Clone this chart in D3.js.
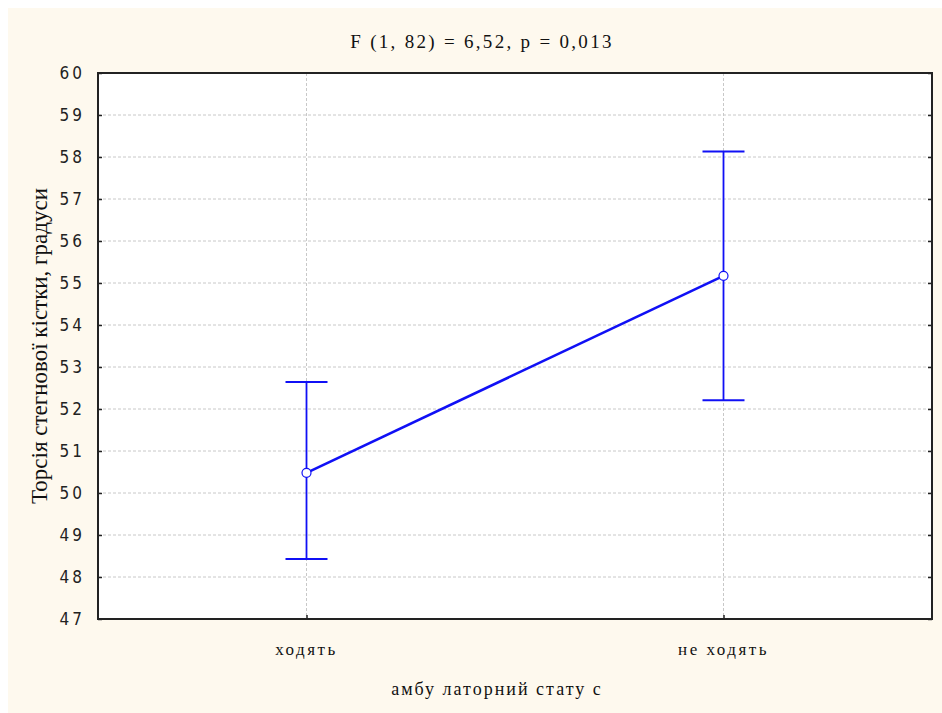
<!DOCTYPE html>
<html>
<head>
<meta charset="utf-8">
<script src="https://cdn.jsdelivr.net/npm/d3@7"></script>
<style>
  body { margin: 0; background: #fff; }
  svg { display: block; }
</style>
</head>
<body>
<svg width="942" height="713"></svg>
<script>
// **** Data ****
var categories = ["ходять", "не ходять"];
var means = [50.48, 55.17];
var upper = [52.64, 58.13];
var lower = [48.43, 52.21];
var yTicks = [47, 48, 49, 50, 51, 52, 53, 54, 55, 56, 57, 58, 59, 60];

var titleText = "F (1, 82) = 6,52, p = 0,013";
var xTitle = "амбу латорний стату с";
var yTitle = "Торсія стегнової кістки, градуси";

// **** Scales ****
// (plotTop, not "top": window.top is read-only)
var plotLeft = 98, plotRight = 932, plotTop = 73, plotBottom = 619;

var xScale = d3.scalePoint()
    .domain(categories).range([plotLeft, plotRight]).padding(0.5);

var yScale = d3.scaleLinear()
    .domain([47, 60]).range([plotBottom, plotTop]);

var svg = d3.select('svg');

svg.append('rect')
    .attr('x', 8).attr('y', 8)
    .attr('width', 934).attr('height', 705)
    .style('fill', '#fef9ee');

svg.append('rect')
    .attr('x', plotLeft).attr('y', plotTop)
    .attr('width', plotRight - plotLeft).attr('height', plotBottom - plotTop)
    .style('fill', '#fff');

// grid lines
svg.append('g').selectAll('line')
    .data(yTicks.slice(1, -1))
    .enter().append('line')
    .attr('x1', plotLeft).attr('x2', plotRight)
    .attr('y1', d => yScale(d)).attr('y2', d => yScale(d))
    .style('stroke', '#c8c8c8')
    .style('stroke-dasharray', '3,2');

svg.append('g').selectAll('line')
    .data(categories)
    .enter().append('line')
    .attr('x1', d => xScale(d)).attr('x2', d => xScale(d))
    .attr('y1', plotTop).attr('y2', plotBottom)
    .style('stroke', '#c8c8c8')
    .style('stroke-dasharray', '3,2');

// axes (ticks pointing inward)
var yAxis = svg.append('g').attr('class', 'y axis')
    .attr('transform', `translate(${plotLeft},0)`)
    .call(d3.axisRight(yScale).tickValues(yTicks).tickSize(4).tickFormat(''));
yAxis.select('.domain').remove();

var yAxisR = svg.append('g')
    .attr('transform', `translate(${plotRight},0)`)
    .call(d3.axisLeft(yScale).tickValues(yTicks).tickSize(4).tickFormat(''));
yAxisR.select('.domain').remove();

var xAxis = svg.append('g')
    .attr('transform', `translate(0,${plotBottom})`)
    .call(d3.axisTop(xScale).tickSize(4).tickFormat(''));
xAxis.select('.domain').remove();

svg.selectAll('.tick line').style('stroke', '#222').style('stroke-width', 1.5);

svg.append('rect')
    .attr('x', plotLeft).attr('y', plotTop)
    .attr('width', plotRight - plotLeft).attr('height', plotBottom - plotTop)
    .style('fill', 'none')
    .style('stroke', '#222')
    .style('stroke-width', 2);

// tick labels
svg.append('g').selectAll('text')
    .data(yTicks)
    .enter().append('text')
    .attr('x', 85)
    .attr('y', d => yScale(d) + 6)
    .attr('text-anchor', 'end')
    .style('font-family', '"Liberation Sans Narrow", "DejaVu Sans Condensed", sans-serif')
    .style('font-size', '17px')
    .style('letter-spacing', '3px')
    .style('fill', '#222')
    .text(d => d);

svg.append('g').selectAll('text')
    .data(categories)
    .enter().append('text')
    .attr('x', d => xScale(d))
    .attr('y', 655)
    .attr('text-anchor', 'middle')
    .style('font-family', '"Liberation Serif", serif')
    .style('font-size', '17px')
    .style('letter-spacing', '2.5px')
    .style('fill', '#111')
    .text(d => d);

// titles
svg.append('text')
    .attr('x', 482).attr('y', 48)
    .attr('text-anchor', 'middle')
    .style('font-family', '"Liberation Serif", serif')
    .style('font-size', '19px')
    .style('letter-spacing', '2.3px')
    .style('fill', '#111')
    .text(titleText);

svg.append('text')
    .attr('x', 497).attr('y', 695)
    .attr('text-anchor', 'middle')
    .style('font-family', '"Liberation Serif", serif')
    .style('font-size', '18px')
    .style('letter-spacing', '2px')
    .style('fill', '#111')
    .text(xTitle);

svg.append('text')
    .attr('transform', `translate(47,${(plotTop + plotBottom) / 2}) rotate(-90)`)
    .attr('text-anchor', 'middle')
    .style('font-family', '"Liberation Serif", serif')
    .style('font-size', '23px')
    .style('fill', '#111')
    .text(yTitle);

// **** Marks ****
var blue = '#1010f5';
var idx = d3.range(categories.length);

svg.append('g').selectAll('line')
    .data(idx)
    .enter().append('line')
    .attr('x1', i => xScale(categories[i])).attr('x2', i => xScale(categories[i]))
    .attr('y1', i => yScale(upper[i])).attr('y2', i => yScale(lower[i]))
    .style('stroke', blue).style('stroke-width', 1.8);

[upper, lower].forEach(function(arr) {
    svg.append('g').selectAll('line')
        .data(idx)
        .enter().append('line')
        .attr('x1', i => xScale(categories[i]) - 21)
        .attr('x2', i => xScale(categories[i]) + 21)
        .attr('y1', i => yScale(arr[i])).attr('y2', i => yScale(arr[i]))
        .style('stroke', blue).style('stroke-width', 2);
});

svg.append('path')
    .datum(idx)
    .attr('d', d3.line().x(i => xScale(categories[i])).y(i => yScale(means[i])))
    .style('fill', 'none')
    .style('stroke', blue)
    .style('stroke-width', 2.6);

svg.append('g').selectAll('circle')
    .data(idx)
    .enter().append('circle')
    .attr('cx', i => xScale(categories[i]))
    .attr('cy', i => yScale(means[i]))
    .attr('r', 4.5)
    .style('fill', '#fff')
    .style('stroke', blue)
    .style('stroke-width', 1.2);
</script>
</body>
</html>
